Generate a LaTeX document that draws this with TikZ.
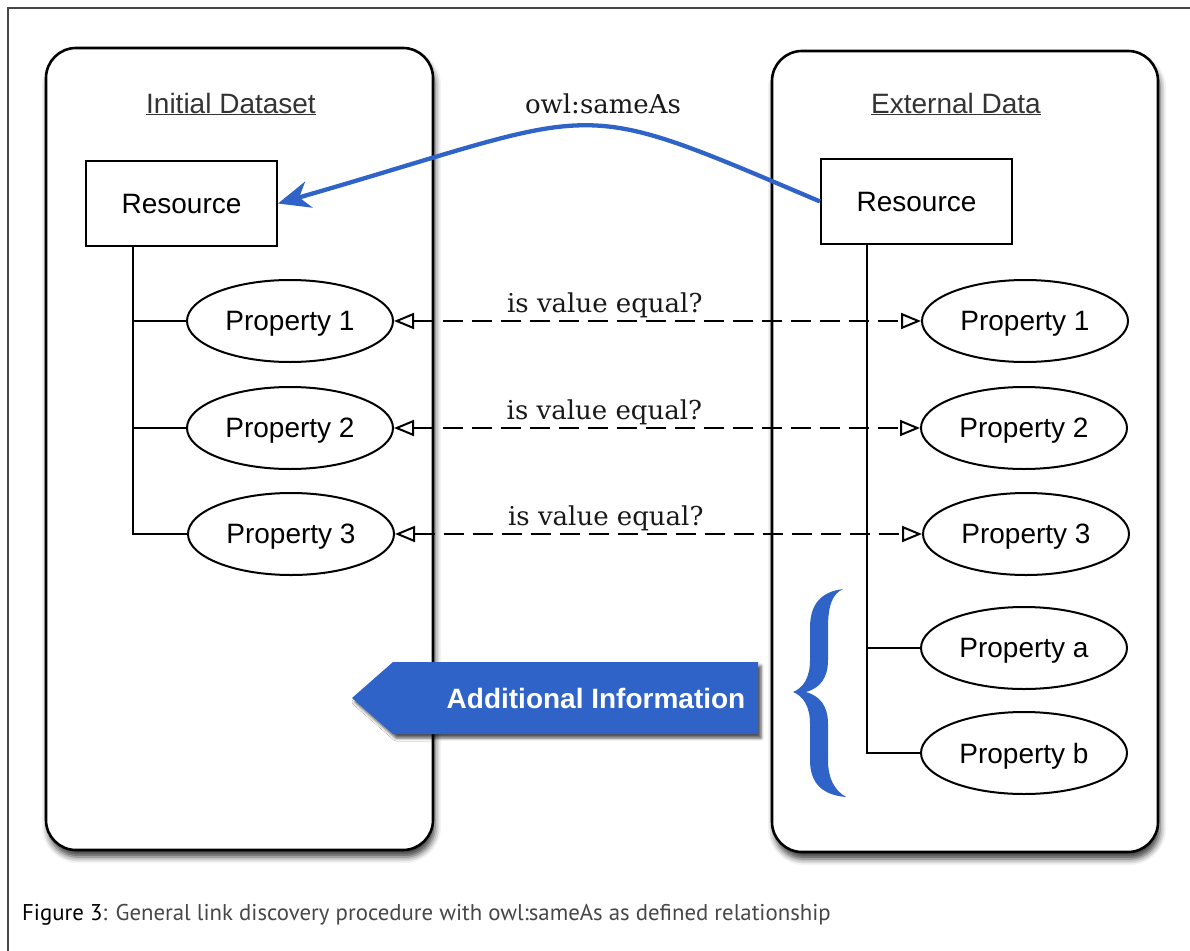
\documentclass[tikz,border=0pt]{standalone}
\usepackage{fontspec}
\setmainfont{Liberation Sans}
\newfontfamily\slabfont{DejaVu Serif}
\newfontfamily\capfont{PT Sans}
\usetikzlibrary{arrows.meta,shapes.geometric,shadows.blur}
\definecolor{linkblue}{RGB}{47,99,200}
\definecolor{framegray}{RGB}{70,70,70}
\begin{document}
\begin{tikzpicture}[x=1pt,y=-1pt,
  container/.style={draw=black, line width=2.6pt, rounded corners=30pt, fill=white,
    blur shadow={shadow xshift=2pt, shadow yshift=-7pt, shadow blur radius=6pt, shadow opacity=75}},
  resbox/.style={draw, line width=2pt, fill=white, minimum width=191pt, minimum height=85pt, inner sep=0pt,
    text depth=0pt, font=\fontsize{28}{32}\selectfont},
  prop/.style={ellipse, draw, line width=2pt, fill=white, minimum width=206pt, minimum height=82pt, inner sep=0pt,
    text depth=0pt, font=\fontsize{28}{32}\selectfont},
  heading/.style={text=black!80, font=\fontsize{28}{32}\selectfont},
  tree/.style={line width=2pt},
  cmp/.style={line width=2pt, dash pattern=on 20pt off 9pt,
    arrows={Triangle[open,length=20pt,width=16pt,line width=2pt]-Triangle[open,length=20pt,width=16pt,line width=2pt]}},
  cmplabel/.style={text=black!90, font=\slabfont\fontsize{26}{30}\selectfont, inner sep=1pt},
  samelink/.style={draw=linkblue, line width=4.3pt, -{Stealth[length=32pt,width=27pt,inset=10pt]}},
]
\useasboundingbox (0,0) rectangle (1190,950);
\clip (0,0) rectangle (1190,950);
% outer frame
\draw[framegray, line width=1.3pt] (8,970) -- (8,8) -- (1210,8);

% containers
\node[container, minimum width=387pt, minimum height=802pt] (leftbox) at (239.5,449) {};
\node[container, minimum width=386pt, minimum height=801pt] (rightbox) at (965,451.5) {};

% headings
\node[heading] (lhead) at (231,104) {\underline{Initial Dataset}};
\node[heading] (rhead) at (956,104) {\underline{External Data}};

% resources
\node[resbox] (lres) at (181.5,203.5) {Resource};
\node[resbox] (rres) at (916.5,201.5) {Resource};

% left properties
\node[prop] (lp1) at (290,321) {Property 1};
\node[prop] (lp2) at (290,428) {Property 2};
\node[prop] (lp3) at (291,534) {Property 3};

% right properties
\node[prop] (rp1) at (1025,321) {Property 1};
\node[prop] (rp2) at (1024,428) {Property 2};
\node[prop] (rp3) at (1026,534) {Property 3};
\node[prop] (rpa) at (1024,648) {Property a};
\node[prop] (rpb) at (1024,753) {Property b};

% trees
\coordinate (lspine) at (133,534);
\draw[tree] (lres.south -| lspine) -- (lspine) -- (lp3.west);
\draw[tree] (lp1.west -| lspine) -- (lp1.west);
\draw[tree] (lp2.west -| lspine) -- (lp2.west);
\coordinate (rspine) at (867,753);
\draw[tree] (rres.south -| rspine) -- (rspine) -- (rpb.west);
\draw[tree] (rpa.west -| rspine) -- (rpa.west);

% comparisons
\draw[cmp] (lp1) -- node[cmplabel, pos=0.4, above, yshift=1pt] (q1) {is value equal?} (rp1);
\draw[cmp] (lp2) -- node[cmplabel, pos=0.4, above, yshift=1pt] (q2) {is value equal?} (rp2);
\draw[cmp] (lp3) -- node[cmplabel, pos=0.4, above, yshift=1pt] (q3) {is value equal?} (rp3);

% owl:sameAs
\draw[samelink] (rres.west) .. controls (565,93) and (610,108) .. (lres.east);
\node[cmplabel] (same) at (603,104) {owl:sameAs};

% additional information arrow
\path[fill=linkblue, blur shadow={shadow xshift=3pt, shadow yshift=-4pt, shadow blur radius=3pt, shadow opacity=70}]
  (352,698) -- (393,662) -- (758,662) -- (758,734) -- (393,734) -- cycle;
\node[text=white, font=\bfseries\fontsize{28}{32}\selectfont] (addinfo) at (596,698) {Additional Information};

% brace
\fill[linkblue] (843,589) .. controls (820,592) and (810,605) .. (810,628) -- (810,660)
  .. controls (810,678) and (803,688) .. (793,692)
  .. controls (803,696) and (810,706) .. (810,724) -- (810,760)
  .. controls (810,783) and (822,795) .. (846,797)
  .. controls (834,790) and (828,778) .. (828,760) -- (828,724)
  .. controls (828,706) and (820,696) .. (806,692)
  .. controls (820,688) and (828,678) .. (828,660) -- (828,628)
  .. controls (828,606) and (832,594) .. (843,589) -- cycle;

% caption
\node[anchor=west, inner sep=0pt, font=\capfont\fontsize{22.8}{26}\selectfont] (caption) at (22,915)
  {\textcolor{black}{Figure 3}\textcolor{black!72}{: General link discovery procedure with owl:sameAs as defined relationship}};
\end{tikzpicture}
\end{document}
